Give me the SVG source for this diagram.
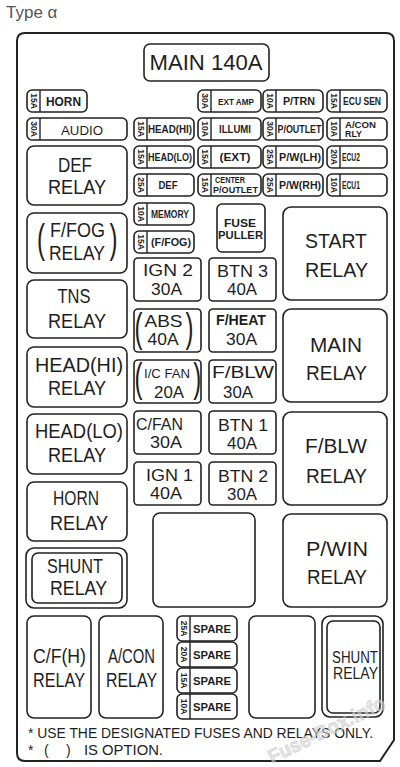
<svg xmlns="http://www.w3.org/2000/svg" width="400" height="767" viewBox="0 0 400 767">
<style>
.L{font-family:"Liberation Sans",Arial,sans-serif;fill:#1e1e1e}
.bx{fill:#fff;stroke:#222;stroke-width:1.6}
.dv{stroke:#222;stroke-width:1.4}
.r{font-size:20px}
.f{font-size:17px}
.s{font-weight:bold}
.a{font-size:8.5px;font-weight:bold}
.p{font-size:40px}
.c{text-anchor:middle}
</style>
<rect width="400" height="767" fill="#fff"/>
<text class="L" x="6" y="18" font-size="17" style="fill:#555">Type α</text>
<path d="M25,33 H386 Q394,33 394,41 V740 L380,761 H25 Q17,761 17,753 V41 Q17,33 25,33 Z" fill="#fff" stroke="#222" stroke-width="2"/>

<g id="main-140a"><rect class="bx" x="144" y="44" width="125" height="37" rx="6"/><text class="L c" x="206" y="70" font-size="22" textLength="113" lengthAdjust="spacingAndGlyphs">MAIN 140A</text></g>

<!-- small fuses row 1 -->
<g id="fuse-horn"><rect class="bx" x="27" y="90" width="60" height="22" rx="5"/><line class="dv" x1="40" y1="90" x2="40" y2="112"/><text class="L a c" transform="translate(33.5,101) rotate(90)" y="3">15A</text><text class="L s c" x="63.5" y="106" font-size="12.5" textLength="35" lengthAdjust="spacingAndGlyphs">HORN</text></g>
<g id="fuse-ext-amp"><rect class="bx" x="198" y="90" width="63" height="22" rx="5"/><line class="dv" x1="211" y1="90" x2="211" y2="112"/><text class="L a c" transform="translate(204.5,101) rotate(90)" y="3">30A</text><text class="L s c" x="236" y="104.5" font-size="9.5" textLength="36" lengthAdjust="spacingAndGlyphs">EXT AMP</text></g>
<g id="fuse-p-trn"><rect class="bx" x="263" y="90" width="60" height="22" rx="5"/><line class="dv" x1="276" y1="90" x2="276" y2="112"/><text class="L a c" transform="translate(269.5,101) rotate(90)" y="3">10A</text><text class="L s c" x="299" y="105" font-size="10" textLength="32" lengthAdjust="spacingAndGlyphs">P/TRN</text></g>
<g id="fuse-ecu-sen"><rect class="bx" x="327" y="90" width="60" height="22" rx="5"/><line class="dv" x1="340" y1="90" x2="340" y2="112"/><text class="L a c" transform="translate(333.5,101) rotate(90)" y="3">15A</text><text class="L s c" x="362" y="105" font-size="10" textLength="38" lengthAdjust="spacingAndGlyphs">ECU SEN</text></g>

<!-- row 2 -->
<g id="fuse-audio"><rect class="bx" x="27" y="118" width="100" height="22" rx="5"/><line class="dv" x1="40" y1="118" x2="40" y2="140"/><text class="L a c" transform="translate(33.5,129) rotate(90)" y="3">30A</text><text class="L c" x="82" y="134.5" font-size="13.5" textLength="42" lengthAdjust="spacingAndGlyphs">AUDIO</text></g>
<g id="fuse-head-hi"><rect class="bx" x="134" y="118" width="60" height="22" rx="5"/><line class="dv" x1="147" y1="118" x2="147" y2="140"/><text class="L a c" transform="translate(140.5,129) rotate(90)" y="3">15A</text><text class="L s c" x="170" y="133" font-size="10.5" textLength="44" lengthAdjust="spacingAndGlyphs">HEAD(HI)</text></g>
<g id="fuse-illumi"><rect class="bx" x="198" y="118" width="63" height="22" rx="5"/><line class="dv" x1="211" y1="118" x2="211" y2="140"/><text class="L a c" transform="translate(204.5,129) rotate(90)" y="3">10A</text><text class="L s c" x="235" y="133" font-size="10" textLength="32" lengthAdjust="spacingAndGlyphs">ILLUMI</text></g>
<g id="fuse-p-outlet"><rect class="bx" x="263" y="118" width="60" height="22" rx="5"/><line class="dv" x1="276" y1="118" x2="276" y2="140"/><text class="L a c" transform="translate(269.5,129) rotate(90)" y="3">30A</text><text class="L s c" x="299.5" y="133" font-size="10" textLength="44" lengthAdjust="spacingAndGlyphs">P/OUTLET</text></g>
<g id="fuse-a-con-rly"><rect class="bx" x="327" y="118" width="60" height="22" rx="5"/><line class="dv" x1="340" y1="118" x2="340" y2="140"/><text class="L a c" transform="translate(333.5,129) rotate(90)" y="3">10A</text><text class="L s" x="345" y="127.5" font-size="8.5" textLength="31" lengthAdjust="spacingAndGlyphs">A/CON</text><text class="L s" x="345" y="137" font-size="8.5" textLength="17" lengthAdjust="spacingAndGlyphs">RLY</text></g>

<!-- row 3 -->
<g id="fuse-head-lo"><rect class="bx" x="134" y="146" width="60" height="22" rx="5"/><line class="dv" x1="147" y1="146" x2="147" y2="168"/><text class="L a c" transform="translate(140.5,157) rotate(90)" y="3">15A</text><text class="L s c" x="170" y="161" font-size="10.5" textLength="44" lengthAdjust="spacingAndGlyphs">HEAD(LO)</text></g>
<g id="fuse-ext"><rect class="bx" x="198" y="146" width="63" height="22" rx="5"/><line class="dv" x1="211" y1="146" x2="211" y2="168"/><text class="L a c" transform="translate(204.5,157) rotate(90)" y="3">15A</text><text class="L s c" x="235" y="161" font-size="10.5" textLength="31" lengthAdjust="spacingAndGlyphs">(EXT)</text></g>
<g id="fuse-p-w-lh"><rect class="bx" x="263" y="146" width="60" height="22" rx="5"/><line class="dv" x1="276" y1="146" x2="276" y2="168"/><text class="L a c" transform="translate(269.5,157) rotate(90)" y="3">25A</text><text class="L s c" x="300" y="161" font-size="10" textLength="42" lengthAdjust="spacingAndGlyphs">P/W(LH)</text></g>
<g id="fuse-ecu2"><rect class="bx" x="327" y="146" width="60" height="22" rx="5"/><line class="dv" x1="340" y1="146" x2="340" y2="168"/><text class="L a c" transform="translate(333.5,157) rotate(90)" y="3">20A</text><text class="L s" x="342" y="161" font-size="10" textLength="18" lengthAdjust="spacingAndGlyphs">ECU2</text></g>

<!-- row 4 -->
<g id="fuse-def"><rect class="bx" x="134" y="174" width="60" height="22" rx="5"/><line class="dv" x1="147" y1="174" x2="147" y2="196"/><text class="L a c" transform="translate(140.5,185) rotate(90)" y="3">25A</text><text class="L s c" x="168" y="189" font-size="10" textLength="19" lengthAdjust="spacingAndGlyphs">DEF</text></g>
<g id="fuse-center-p-outlet"><rect class="bx" x="198" y="174" width="63" height="22" rx="5"/><line class="dv" x1="211" y1="174" x2="211" y2="196"/><text class="L a c" transform="translate(204.5,185) rotate(90)" y="3">15A</text><text class="L s" x="215" y="183" font-size="8.5" textLength="30" lengthAdjust="spacingAndGlyphs">CENTER</text><text class="L s" x="213" y="193" font-size="8.5" textLength="45" lengthAdjust="spacingAndGlyphs">P/OUTLET</text></g>
<g id="fuse-p-w-rh"><rect class="bx" x="263" y="174" width="60" height="22" rx="5"/><line class="dv" x1="276" y1="174" x2="276" y2="196"/><text class="L a c" transform="translate(269.5,185) rotate(90)" y="3">25A</text><text class="L s c" x="300" y="189" font-size="10" textLength="42" lengthAdjust="spacingAndGlyphs">P/W(RH)</text></g>
<g id="fuse-ecu1"><rect class="bx" x="327" y="174" width="60" height="22" rx="5"/><line class="dv" x1="340" y1="174" x2="340" y2="196"/><text class="L a c" transform="translate(333.5,185) rotate(90)" y="3">10A</text><text class="L s" x="342" y="189" font-size="10" textLength="18" lengthAdjust="spacingAndGlyphs">ECU1</text></g>

<g id="fuse-memory"><rect class="bx" x="134" y="203" width="60" height="22" rx="5"/><line class="dv" x1="147" y1="203" x2="147" y2="225"/><text class="L a c" transform="translate(140.5,214) rotate(90)" y="3">10A</text><text class="L s c" x="170" y="218" font-size="10" textLength="38" lengthAdjust="spacingAndGlyphs">MEMORY</text></g>
<g id="fuse-f-fog"><rect class="bx" x="134" y="231" width="60" height="22" rx="5"/><line class="dv" x1="147" y1="231" x2="147" y2="253"/><text class="L a c" transform="translate(140.5,242) rotate(90)" y="3">15A</text><text class="L s c" x="171" y="246" font-size="10" textLength="40" lengthAdjust="spacingAndGlyphs">(F/FOG)</text></g>
<g id="fuse-puller"><rect class="bx" x="217" y="204" width="48" height="48" rx="5"/><text class="L s c" x="240" y="227" font-size="11.5" textLength="32" lengthAdjust="spacingAndGlyphs">FUSE</text><text class="L s c" x="240.5" y="239" font-size="11.5" textLength="45" lengthAdjust="spacingAndGlyphs">PULLER</text></g>

<!-- left relays -->
<g id="relay-def"><rect class="bx" x="27" y="146" width="100" height="59" rx="7"/><text class="L r c" x="75" y="172" textLength="34" lengthAdjust="spacingAndGlyphs">DEF</text><text class="L r c" x="77" y="194" textLength="58" lengthAdjust="spacingAndGlyphs">RELAY</text></g>
<g id="relay-f-fog"><rect class="bx" x="27" y="213" width="100" height="60" rx="7"/><text class="L p" transform="translate(37,253) scale(0.6,1)">(</text><text class="L p" transform="translate(109.5,253) scale(0.6,1)">)</text><text class="L r c" x="77.5" y="237" textLength="55" lengthAdjust="spacingAndGlyphs">F/FOG</text><text class="L r c" x="77" y="260" textLength="56" lengthAdjust="spacingAndGlyphs">RELAY</text></g>
<g id="relay-tns"><rect class="bx" x="27" y="280" width="100" height="58" rx="7"/><text class="L r c" x="74" y="303" textLength="33" lengthAdjust="spacingAndGlyphs">TNS</text><text class="L r c" x="77" y="328" textLength="58" lengthAdjust="spacingAndGlyphs">RELAY</text></g>
<g id="relay-head-hi"><rect class="bx" x="27" y="347" width="100" height="60" rx="7"/><text class="L r c" x="79" y="372" textLength="88" lengthAdjust="spacingAndGlyphs">HEAD(HI)</text><text class="L r c" x="77" y="395" textLength="58" lengthAdjust="spacingAndGlyphs">RELAY</text></g>
<g id="relay-head-lo"><rect class="bx" x="27" y="414" width="100" height="60" rx="7"/><text class="L r c" x="79" y="438" textLength="88" lengthAdjust="spacingAndGlyphs">HEAD(LO)</text><text class="L r c" x="77" y="462" textLength="58" lengthAdjust="spacingAndGlyphs">RELAY</text></g>
<g id="relay-horn"><rect class="bx" x="27" y="482" width="100" height="59" rx="7"/><text class="L r c" x="76" y="505" textLength="46" lengthAdjust="spacingAndGlyphs">HORN</text><text class="L r c" x="79" y="530" textLength="58" lengthAdjust="spacingAndGlyphs">RELAY</text></g>
<g id="relay-shunt-left"><rect class="bx" x="26" y="548" width="101" height="60" rx="8"/><rect class="bx" x="32" y="553" width="90" height="50" rx="6"/><text class="L r c" x="75" y="573" textLength="56" lengthAdjust="spacingAndGlyphs">SHUNT</text><text class="L r c" x="78.5" y="595" textLength="57" lengthAdjust="spacingAndGlyphs">RELAY</text></g>

<!-- right relays -->
<g id="relay-start"><rect class="bx" x="283" y="207" width="104" height="93" rx="8"/><text class="L r c" x="336" y="248" textLength="62" lengthAdjust="spacingAndGlyphs">START</text><text class="L r c" x="336.5" y="277" textLength="63" lengthAdjust="spacingAndGlyphs">RELAY</text></g>
<g id="relay-main"><rect class="bx" x="283" y="309" width="104" height="93" rx="8"/><text class="L r c" x="336" y="352" textLength="52" lengthAdjust="spacingAndGlyphs">MAIN</text><text class="L r c" x="336.5" y="380" textLength="61" lengthAdjust="spacingAndGlyphs">RELAY</text></g>
<g id="relay-f-blw"><rect class="bx" x="283" y="412" width="104" height="93" rx="8"/><text class="L r c" x="336" y="453" textLength="62" lengthAdjust="spacingAndGlyphs">F/BLW</text><text class="L r c" x="336.5" y="483" textLength="61" lengthAdjust="spacingAndGlyphs">RELAY</text></g>
<g id="relay-p-win"><rect class="bx" x="283" y="514" width="104" height="93" rx="8"/><text class="L r c" x="337" y="556" textLength="62" lengthAdjust="spacingAndGlyphs">P/WIN</text><text class="L r c" x="337" y="584" textLength="60" lengthAdjust="spacingAndGlyphs">RELAY</text></g>

<!-- middle fuse boxes -->
<g id="fuse-ign2"><rect class="bx" x="134" y="258" width="67" height="43" rx="4"/><text class="L f c" x="168" y="276" textLength="50" lengthAdjust="spacingAndGlyphs">IGN 2</text><text class="L f c" x="166.5" y="295" textLength="31" lengthAdjust="spacingAndGlyphs">30A</text></g>
<g id="fuse-btn3"><rect class="bx" x="209" y="258" width="67" height="43" rx="4"/><text class="L f c" x="242.5" y="277" textLength="51" lengthAdjust="spacingAndGlyphs">BTN 3</text><text class="L f c" x="242" y="295" textLength="30" lengthAdjust="spacingAndGlyphs">40A</text></g>
<g id="fuse-abs"><rect class="bx" x="134" y="309" width="67" height="43" rx="4"/><text class="L p" transform="translate(134.5,342) scale(0.6,1)">(</text><text class="L p" transform="translate(185.5,342) scale(0.6,1)">)</text><text class="L f c" x="163.5" y="327" textLength="38" lengthAdjust="spacingAndGlyphs">ABS</text><text class="L f c" x="163" y="345" textLength="31" lengthAdjust="spacingAndGlyphs">40A</text></g>
<g id="fuse-f-heat"><rect class="bx" x="209" y="309" width="67" height="43" rx="4"/><text class="L s c" x="241" y="325" font-size="14" textLength="50" lengthAdjust="spacingAndGlyphs">F/HEAT</text><text class="L f c" x="241.5" y="345" textLength="31" lengthAdjust="spacingAndGlyphs">30A</text></g>
<g id="fuse-i-c-fan"><rect class="bx" x="134" y="360" width="67" height="43" rx="4"/><text class="L p" transform="translate(134.5,392) scale(0.6,1)">(</text><text class="L p" transform="translate(193.3,392) scale(0.6,1)">)</text><text class="L c" x="167" y="378" font-size="13" textLength="46" lengthAdjust="spacingAndGlyphs">I/C FAN</text><text class="L f c" x="169" y="398" textLength="30" lengthAdjust="spacingAndGlyphs">20A</text></g>
<g id="fuse-f-blw"><rect class="bx" x="209" y="360" width="67" height="43" rx="4"/><text class="L f c" x="243" y="378" textLength="62" lengthAdjust="spacingAndGlyphs">F/BLW</text><text class="L f c" x="238" y="398" textLength="30" lengthAdjust="spacingAndGlyphs">30A</text></g>
<g id="fuse-c-fan"><rect class="bx" x="134" y="411" width="67" height="43" rx="4"/><text class="L f c" x="159.5" y="430" textLength="47" lengthAdjust="spacingAndGlyphs">C/FAN</text><text class="L f c" x="166" y="448" textLength="32" lengthAdjust="spacingAndGlyphs">30A</text></g>
<g id="fuse-btn1"><rect class="bx" x="209" y="411" width="67" height="43" rx="4"/><text class="L f c" x="243" y="431" textLength="50" lengthAdjust="spacingAndGlyphs">BTN 1</text><text class="L f c" x="242" y="449" textLength="30" lengthAdjust="spacingAndGlyphs">40A</text></g>
<g id="fuse-ign1"><rect class="bx" x="134" y="462" width="67" height="43" rx="4"/><text class="L f c" x="169.5" y="481" textLength="47" lengthAdjust="spacingAndGlyphs">IGN 1</text><text class="L f c" x="166" y="499" textLength="32" lengthAdjust="spacingAndGlyphs">40A</text></g>
<g id="fuse-btn2"><rect class="bx" x="209" y="462" width="67" height="43" rx="4"/><text class="L f c" x="243" y="482" textLength="50" lengthAdjust="spacingAndGlyphs">BTN 2</text><text class="L f c" x="242" y="500" textLength="30" lengthAdjust="spacingAndGlyphs">30A</text></g>

<g id="slot-empty-1"><rect class="bx" x="153" y="513" width="102" height="94" rx="7"/></g>

<!-- bottom row -->
<g id="relay-c-f-h"><rect class="bx" x="27" y="616" width="64" height="102" rx="7"/><text class="L r c" x="59.5" y="663" font-size="19" textLength="53" lengthAdjust="spacingAndGlyphs">C/F(H)</text><text class="L r c" x="59" y="687" textLength="52" lengthAdjust="spacingAndGlyphs">RELAY</text></g>
<g id="relay-a-con"><rect class="bx" x="99" y="616" width="64" height="102" rx="7"/><text class="L r c" x="131.5" y="663" font-size="19" textLength="47" lengthAdjust="spacingAndGlyphs">A/CON</text><text class="L r c" x="131.5" y="687" textLength="51" lengthAdjust="spacingAndGlyphs">RELAY</text></g>
<g id="fuse-spare-25"><rect class="bx" x="177" y="616" width="60" height="25" rx="5"/><line class="dv" x1="190" y1="616" x2="190" y2="641"/><text class="L a c" transform="translate(183.5,628.5) rotate(90)" y="3">25A</text><text class="L s c" x="212" y="633" font-size="10.5" textLength="38" lengthAdjust="spacingAndGlyphs">SPARE</text></g>
<g id="fuse-spare-20"><rect class="bx" x="177" y="642" width="60" height="25" rx="5"/><line class="dv" x1="190" y1="642" x2="190" y2="667"/><text class="L a c" transform="translate(183.5,654.5) rotate(90)" y="3">20A</text><text class="L s c" x="212" y="659" font-size="10.5" textLength="38" lengthAdjust="spacingAndGlyphs">SPARE</text></g>
<g id="fuse-spare-15"><rect class="bx" x="177" y="668" width="60" height="25" rx="5"/><line class="dv" x1="190" y1="668" x2="190" y2="693"/><text class="L a c" transform="translate(183.5,680.5) rotate(90)" y="3">15A</text><text class="L s c" x="212" y="685" font-size="10.5" textLength="38" lengthAdjust="spacingAndGlyphs">SPARE</text></g>
<g id="fuse-spare-10"><rect class="bx" x="177" y="694" width="60" height="25" rx="5"/><line class="dv" x1="190" y1="694" x2="190" y2="719"/><text class="L a c" transform="translate(183.5,706.5) rotate(90)" y="3">10A</text><text class="L s c" x="212" y="711" font-size="10.5" textLength="38" lengthAdjust="spacingAndGlyphs">SPARE</text></g>
<g id="slot-empty-2"><rect class="bx" x="249" y="616" width="66" height="102" rx="7"/></g>
<g id="relay-shunt-right"><rect class="bx" x="322" y="616" width="61" height="101" rx="8"/><rect class="bx" x="327" y="621" width="53" height="92" rx="6"/><text class="L c" x="355" y="663" font-size="16" textLength="46" lengthAdjust="spacingAndGlyphs">SHUNT</text><text class="L c" x="355.5" y="679" font-size="16" textLength="45" lengthAdjust="spacingAndGlyphs">RELAY</text></g>

<g id="connectors"></g>

<g id="notes">
<text class="L" x="28" y="738" font-size="14" textLength="345" lengthAdjust="spacingAndGlyphs">* USE THE DESIGNATED FUSES AND RELAYS ONLY.</text>
<text class="L" font-size="14" y="755"><tspan x="28">*</tspan><tspan x="44">(</tspan><tspan x="66">)</tspan><tspan x="84" textLength="79" lengthAdjust="spacingAndGlyphs">IS OPTION.</tspan></text>
</g>

<text x="272" y="764" transform="rotate(-26 272 764)" font-family="Liberation Sans, Arial, sans-serif" font-size="20" font-weight="bold" fill="#d6d6d6" fill-opacity="0.6" stroke="#bdbdbd" stroke-opacity="0.7" stroke-width="0.6" textLength="128" lengthAdjust="spacingAndGlyphs">Fuse-Box.info</text>
</svg>
